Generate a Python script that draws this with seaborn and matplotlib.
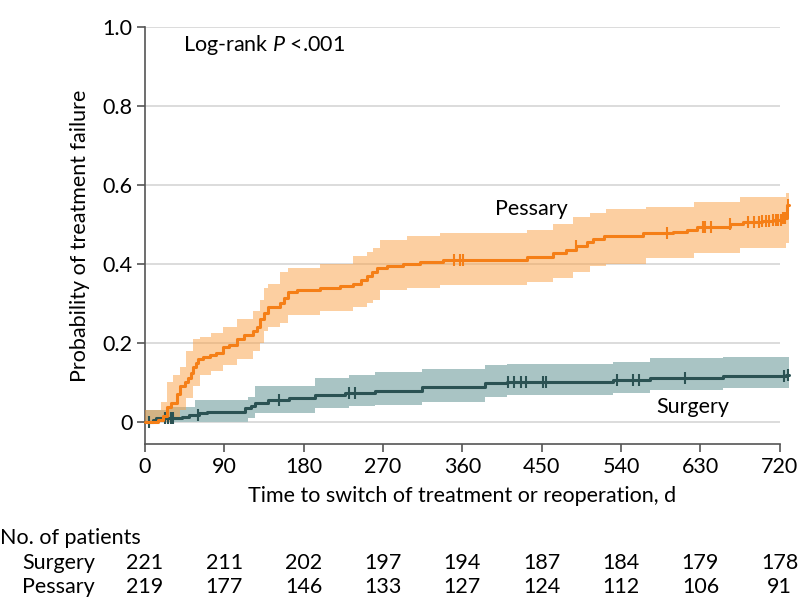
import numpy as np
import matplotlib
matplotlib.use("Agg")
import matplotlib.pyplot as plt
import matplotlib.transforms as mtransforms
import seaborn as sns

# Kaplan-Meier style cumulative failure curves (days, probability)
pessary_t = [0, 15, 20, 25, 30, 36, 40, 45, 49, 52, 55, 58, 60, 66, 74, 80, 89, 95,
             104, 112, 122, 127, 130, 135, 140, 153, 158, 162, 172, 198, 221, 236, 245,
             252, 258, 263, 274, 293, 312, 338, 433, 463, 478, 489, 501, 508, 521, 565,
             599, 615, 626, 663, 678, 700, 712, 722, 728, 730]
pessary_p = [0, 0.005, 0.015, 0.038, 0.048, 0.07, 0.09, 0.10, 0.11, 0.125, 0.14, 0.15,
             0.16, 0.165, 0.17, 0.175, 0.19, 0.195, 0.21, 0.22, 0.23, 0.24, 0.26, 0.275,
             0.29, 0.30, 0.315, 0.33, 0.333, 0.34, 0.345, 0.35, 0.36, 0.37, 0.38, 0.39,
             0.395, 0.40, 0.405, 0.41, 0.418, 0.428, 0.435, 0.445, 0.455, 0.463, 0.47,
             0.478, 0.482, 0.486, 0.494, 0.50, 0.506, 0.51, 0.512, 0.516, 0.55, 0.55]

pessary_ci_t = [0, 18, 25, 32, 40, 47, 55, 62, 75, 89, 104, 122, 130, 135, 140, 153, 162,
                198, 236, 252, 259, 266, 297, 335, 433, 463, 486, 505, 523, 568, 623, 675,
                727, 730]
pessary_lo = [0, 0, 0, 0.01, 0.03, 0.06, 0.09, 0.12, 0.13, 0.145, 0.16, 0.18, 0.20, 0.23,
              0.24, 0.25, 0.27, 0.28, 0.29, 0.30, 0.31, 0.334, 0.34, 0.347, 0.354, 0.364,
              0.38, 0.395, 0.40, 0.415, 0.428, 0.44, 0.453, 0.453]
pessary_hi = [0.03, 0.05, 0.10, 0.12, 0.14, 0.18, 0.21, 0.215, 0.225, 0.24, 0.26, 0.28,
              0.31, 0.34, 0.35, 0.38, 0.39, 0.40, 0.42, 0.43, 0.44, 0.46, 0.47, 0.478,
              0.486, 0.50, 0.52, 0.53, 0.54, 0.545, 0.557, 0.57, 0.58, 0.58]

surgery_t = [0, 9, 13, 25, 42, 50, 61, 70, 113, 120, 125, 140, 163, 193, 227, 261, 314,
             386, 411, 531, 573, 656, 727, 730]
surgery_p = [0, 0.004, 0.009, 0.011, 0.013, 0.018, 0.023, 0.026, 0.035, 0.04, 0.047,
             0.055, 0.06, 0.068, 0.072, 0.079, 0.088, 0.098, 0.10, 0.105, 0.11, 0.116,
             0.12, 0.12]

surgery_ci_t = [0, 25, 57, 117, 125, 193, 231, 261, 314, 386, 411, 531, 573, 656, 730]
surgery_lo = [0, 0, 0, 0.01, 0.022, 0.035, 0.04, 0.043, 0.05, 0.063, 0.068, 0.074, 0.08,
              0.085, 0.085]
surgery_hi = [0.03, 0.038, 0.055, 0.063, 0.09, 0.11, 0.12, 0.127, 0.133, 0.144, 0.146,
              0.152, 0.162, 0.165, 0.165]

# censoring marks (days)
surgery_cens = [5, 23, 26, 30, 32, 60, 152, 231, 238, 412, 418, 426, 432, 451, 455, 535,
                553, 560, 613, 725, 729]
pessary_cens = [350, 357, 361, 489, 592, 633, 635, 642, 663, 684, 691, 696, 700, 704, 708,
                712, 716, 718, 721, 724, 726, 729]

# number at risk
risk_days = [0, 90, 180, 270, 360, 450, 540, 630, 720]
risk_surgery = [221, 211, 202, 197, 194, 187, 184, 179, 178]
risk_pessary = [219, 177, 146, 133, 127, 124, 112, 106, 91]

ORANGE = "#f57f17"
ORANGE_BAND = "#fba145"
TEAL = "#2b5253"
TEAL_BAND = "#a9c4c4"
FONT = "Lato"
FS = 15.5

sns.set_style("white")
plt.rcParams["font.family"] = [FONT, "DejaVu Sans"]
plt.rcParams["font.size"] = FS
plt.rcParams["text.color"] = "black"
plt.rcParams["axes.labelcolor"] = "black"
plt.rcParams["mathtext.fontset"] = "custom"
plt.rcParams["mathtext.rm"] = FONT
plt.rcParams["mathtext.it"] = FONT + ":italic"

fig = plt.figure(figsize=(7.98, 6.15), dpi=100)
ax = fig.add_axes([0.1817, 0.278, 0.7955, 0.678])


def step_at(ts, vs, x):
    idx = np.searchsorted(ts, x, side="right") - 1
    return np.asarray(vs)[idx]


ax.fill_between(surgery_ci_t, surgery_lo, surgery_hi, step="post", color=TEAL_BAND,
                lw=0, clip_on=False, zorder=2)
ax.fill_between(pessary_ci_t, pessary_lo, pessary_hi, step="post", color=ORANGE_BAND,
                alpha=0.5, lw=0, clip_on=False, zorder=3)

sns.lineplot(x=surgery_t, y=surgery_p, drawstyle="steps-post", color=TEAL, lw=2.2,
             estimator=None, ax=ax, clip_on=False, zorder=4)
sns.lineplot(x=pessary_t, y=pessary_p, drawstyle="steps-post", color=ORANGE, lw=2.2,
             estimator=None, ax=ax, clip_on=False, zorder=5)

ax.plot(surgery_cens, step_at(surgery_t, surgery_p, surgery_cens), ls="none", marker="|",
        ms=8, mew=1.5, color=TEAL, clip_on=False, zorder=4)
ax.plot(pessary_cens, step_at(pessary_t, pessary_p, pessary_cens), ls="none", marker="|",
        ms=8, mew=1.5, color=ORANGE, clip_on=False, zorder=5)

ax.set_xlim(0, 720)
ax.set_ylim(-0.056, 1.0)
ax.set_xticks(risk_days)
ax.set_yticks([0, 0.2, 0.4, 0.6, 0.8, 1.0])
ax.set_yticklabels(["0", "0.2", "0.4", "0.6", "0.8", "1.0"])
ax.yaxis.grid(True, color="#d9d9d9", lw=1.3, zorder=0)
ax.set_axisbelow(True)
for side in ["top", "right"]:
    ax.spines[side].set_visible(False)
for side in ["left", "bottom"]:
    ax.spines[side].set_color("#555555")
    ax.spines[side].set_linewidth(1.2)
ax.tick_params(axis="both", direction="out", length=6, width=1.2, color="#555555",
               labelcolor="black", labelsize=FS, pad=3, bottom=True, left=True)

ax.set_xlabel("Time to switch of treatment or reoperation, d", fontsize=FS, labelpad=7)
ax.set_ylabel("Probability of treatment failure", fontsize=FS, labelpad=9)

ax.text(43, 0.955, "Log-rank $\\mathit{P}$ <.001", fontsize=FS, va="center", ha="left")
ax.text(397, 0.54, "Pessary", fontsize=FS, va="center", ha="left")
ax.text(580, 0.038, "Surgery", fontsize=FS, va="center", ha="left")

# number at risk table
trans = mtransforms.blended_transform_factory(ax.transData, fig.transFigure)
fig.text(0.0, 0.125, "No. of patients", fontsize=FS, va="center", ha="left")
fig.text(0.0276, 0.0846, "Surgery", fontsize=FS, va="center", ha="left")
fig.text(0.0276, 0.0455, "Pessary", fontsize=FS, va="center", ha="left")
for d, s, p in zip(risk_days, risk_surgery, risk_pessary):
    ax.text(d, 0.0846, str(s), fontsize=FS, va="center", ha="center", transform=trans,
            clip_on=False)
    ax.text(d, 0.0455, str(p), fontsize=FS, va="center", ha="center", transform=trans,
            clip_on=False)

fig.savefig("out.png", dpi=100)
